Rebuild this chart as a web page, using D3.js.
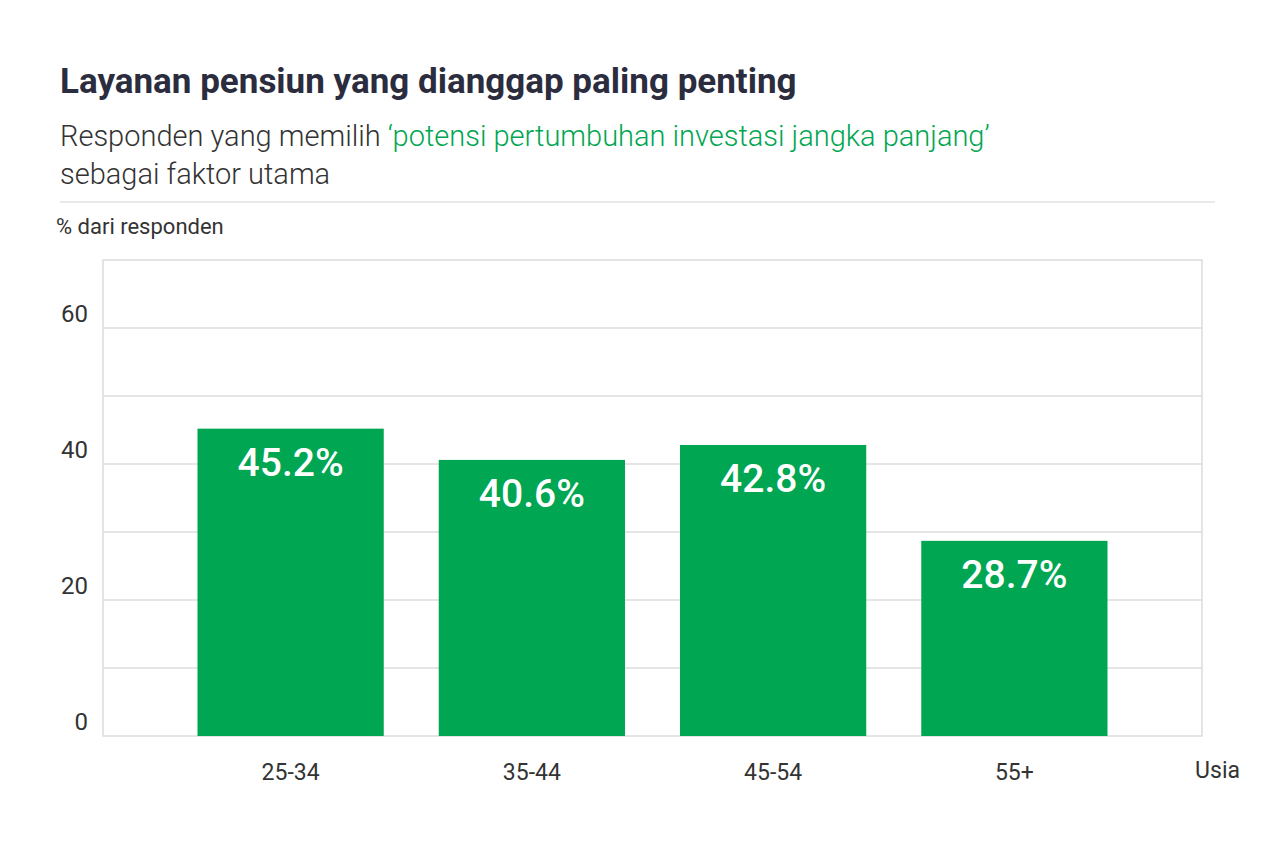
<!DOCTYPE html>
<html><head><meta charset="utf-8">
<script src="https://cdn.jsdelivr.net/npm/d3@7"></script>
<style>body{margin:0;background:#fff;font-family:Roboto,"Noto Sans",sans-serif;}</style>
</head><body><div id="chart"></div>
<script>
// chart data
const categories = ['25-34', '35-44', '45-54', '55+'];
const values = [45.2, 40.6, 42.8, 28.7];
const yTicks = [0, 20, 40, 60];
const gridTicks = [10, 20, 30, 40, 50, 60];

const W = 1280, H = 853;
const GREEN = '#00a651';
const svg = d3.select('#chart').append('svg').attr('width', W).attr('height', H);

// titles
svg.append('text').attr('x', 60).attr('y', 93)
  .attr('font-size', 35).attr('font-weight', 700).attr('fill', '#2b2d3e')
  .text('Layanan pensiun yang dianggap paling penting');
const sub = svg.append('text').attr('x', 60).attr('y', 146)
  .attr('font-size', 29).attr('font-weight', 300).attr('fill', '#333');
sub.append('tspan').text('Responden yang memilih ');
sub.append('tspan').attr('fill', GREEN).text('\u2018potensi pertumbuhan investasi jangka panjang\u2019');
svg.append('text').attr('x', 60).attr('y', 184)
  .attr('font-size', 29).attr('font-weight', 300).attr('fill', '#333')
  .text('sebagai faktor utama');
svg.append('line').attr('x1', 60).attr('x2', 1215).attr('y1', 202).attr('y2', 202)
  .attr('stroke', '#e2e2e2').attr('stroke-width', 1.5);
svg.append('text').attr('x', 56).attr('y', 234)
  .attr('font-size', 22).attr('fill', '#333').text('% dari responden');

// scales
const pLeft = 103, pRight = 1202, pTop = 260, pBottom = 736;
const y = d3.scaleLinear().domain([0, 70]).range([pBottom, pTop]);
const x = d3.scaleBand().domain(categories).range([170, 1135])
  .paddingInner(0.228).paddingOuter(0.114);

// frame + grid
svg.append('rect').attr('x', pLeft).attr('y', pTop)
  .attr('width', pRight - pLeft).attr('height', pBottom - pTop)
  .attr('fill', 'none').attr('stroke', '#dcdcdc').attr('stroke-width', 1.5);
svg.append('g').selectAll('line').data(gridTicks).join('line')
  .attr('x1', pLeft).attr('x2', pRight)
  .attr('y1', d => y(d)).attr('y2', d => y(d))
  .attr('stroke', '#dcdcdc').attr('stroke-width', 1.5);

// y labels sit just above their gridline
svg.append('g').selectAll('text').data(yTicks).join('text')
  .attr('x', 88).attr('y', d => y(d) - 6)
  .attr('text-anchor', 'end').attr('font-size', 24).attr('fill', '#333')
  .text(d => d);

// bars
svg.append('g').selectAll('rect').data(values).join('rect')
  .attr('x', (d, i) => x(categories[i]))
  .attr('y', d => y(d))
  .attr('width', x.bandwidth())
  .attr('height', d => pBottom - y(d))
  .attr('fill', GREEN);

svg.append('g').selectAll('text').data(values).join('text')
  .attr('x', (d, i) => x(categories[i]) + x.bandwidth() / 2)
  .attr('y', d => y(d) + 47)
  .attr('text-anchor', 'middle').attr('font-size', 39).attr('font-weight', 500)
  .attr('fill', '#fff')
  .text(d => d.toFixed(1) + '%');

// x labels
svg.append('g').selectAll('text').data(categories).join('text')
  .attr('x', d => x(d) + x.bandwidth() / 2).attr('y', 780)
  .attr('text-anchor', 'middle').attr('font-size', 23).attr('fill', '#333')
  .text(d => d);
svg.append('text').attr('x', 1240).attr('y', 778).attr('text-anchor', 'end')
  .attr('font-size', 23).attr('fill', '#333').text('Usia');
</script></body></html>
